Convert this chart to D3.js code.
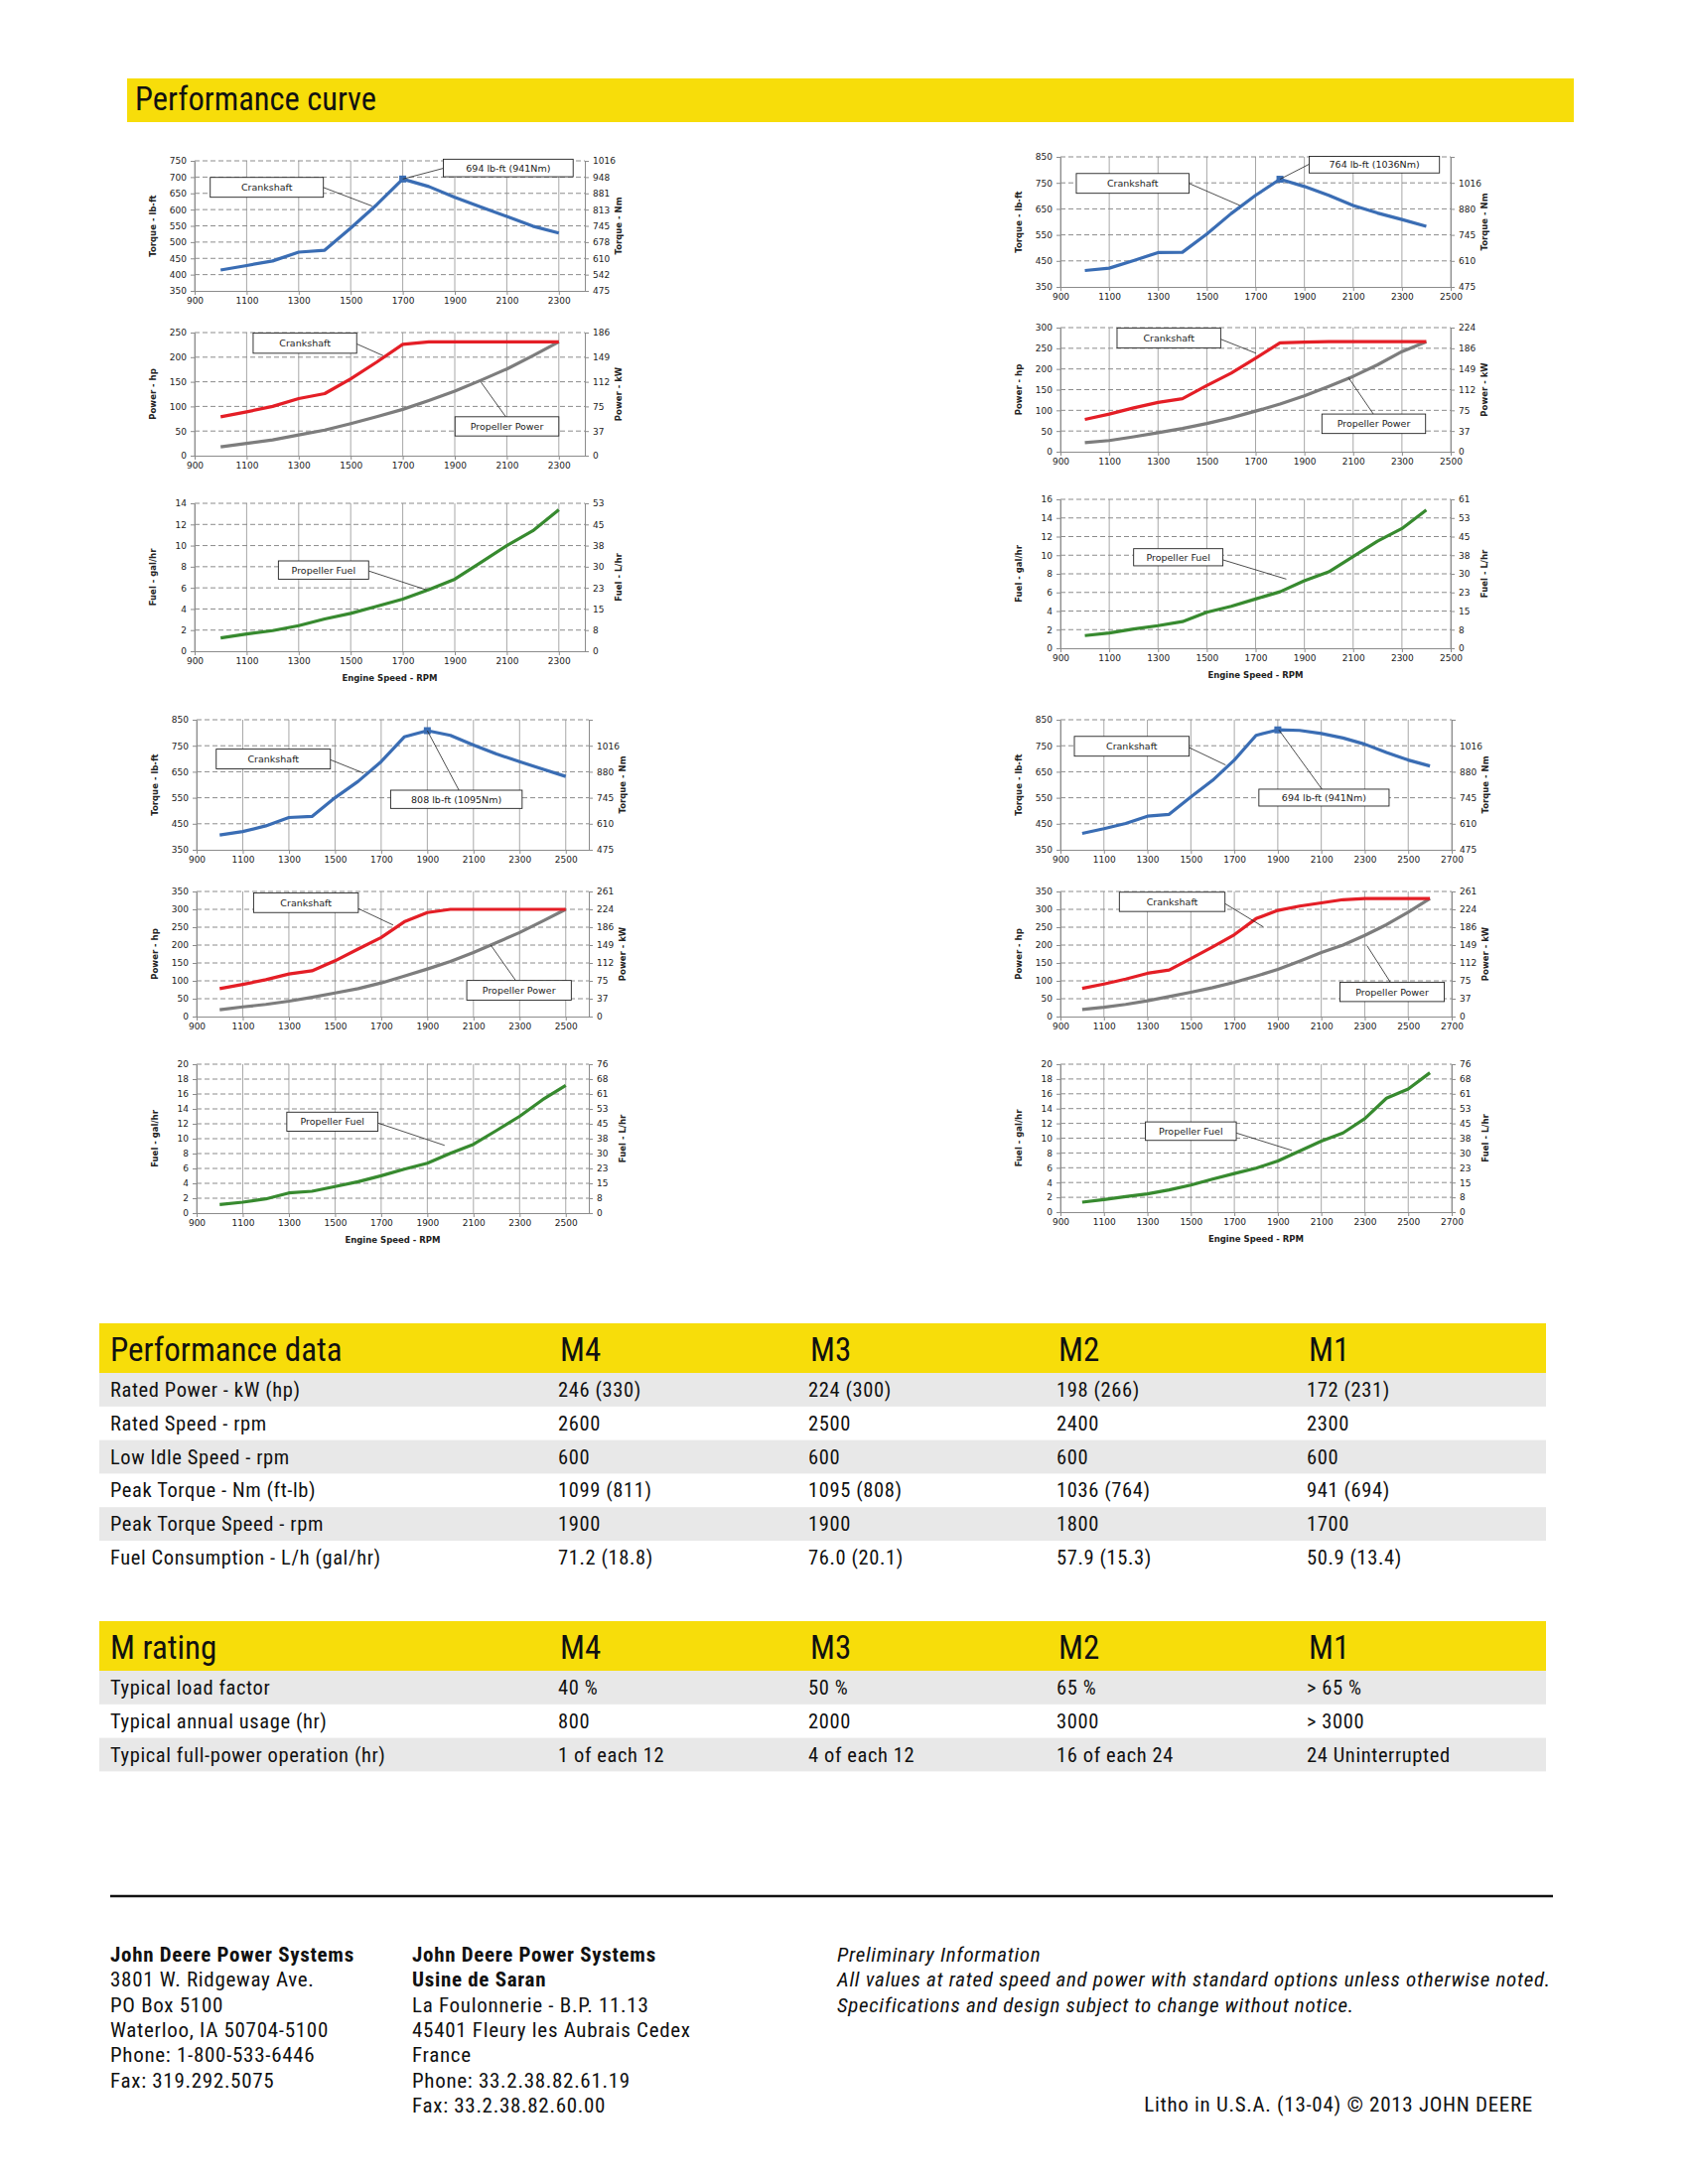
<!DOCTYPE html>
<html>
<head>
<meta charset="utf-8">
<title>Performance curve</title>
<style>
  body {margin: 0; background: #fff;}
  svg {display: block;}
  .txt {font-family: "Liberation Sans Narrow", "Arial Narrow", "Roboto Condensed", "Liberation Sans", sans-serif; fill: #111;}
  .row {letter-spacing: 0.6px;}
  .foot {letter-spacing: 0.7px;}
  .chart text {font-family: "DejaVu Sans", Verdana, sans-serif; fill: #222;}
</style>
</head>
<body>
<svg id="page" width="1700" height="2200"></svg>
<script src="https://d3js.org/d3.v7.min.js"></script>
<script>
// ---- engine speed points (rpm) ----
var rpmM1 = [1000,1100,1200,1300,1400,1500,1600,1700,1800,1900,2000,2100,2200,2300];
var rpmM2 = [1000,1100,1200,1300,1400,1500,1600,1700,1800,1900,2000,2100,2200,2300,2400];
var rpmM3 = [1000,1100,1200,1300,1400,1500,1600,1700,1800,1900,2000,2100,2200,2300,2400,2500];
var rpmM4 = [1000,1100,1200,1300,1400,1500,1600,1700,1800,1900,2000,2100,2200,2300,2400,2500,2600];

// ---- torque lb-ft ----
var torqueM1 = [414,428,442,469,475,543,615,694,671,638,608,579,549,528];
var torqueM2 = [413,422,451,482,483,553,632,702,764,736,702,663,634,609,583];
var torqueM3 = [407,420,442,474,478,550,613,689,784,808,790,753,718,689,660,632];
var torqueM4 = [413,431,451,479,486,553,617,695,790,811,809,797,780,756,724,695,672];

// ---- crankshaft power hp ----
var crankM1 = [79,89,100,116,126,156,190,226,231,231,231,231,231,231];
var crankM2 = [78,91,106,119,128,160,190,226,263,265,266,266,266,266,266];
var crankM3 = [78,90,103,119,128,156,189,221,265,291,300,300,300,300,300,300];
var crankM4 = [79,91,105,121,130,162,195,229,274,297,309,318,327,330,330,330,330];

// ---- propeller power hp ----
var propM1 = [18,25,32,42,52,65,79,94,112,131,153,176,203,231];
var propM2 = [22,27,36,46,56,68,82,98,115,135,158,182,210,242,266];
var propM3 = [19,27,34,43,54,66,78,94,113,133,154,179,207,235,267,300];
var propM4 = [20,26,34,44,56,68,81,96,113,132,155,179,200,227,257,292,330];

// ---- propeller fuel gal/hr ----
var fuelM1 = [1.26,1.64,1.95,2.42,3.05,3.58,4.25,4.94,5.82,6.82,8.4,10.0,11.4,13.4];
var fuelM2 = [1.36,1.64,2.07,2.43,2.86,3.86,4.5,5.29,6.07,7.25,8.21,9.86,11.5,12.86,14.86];
var fuelM3 = [1.16,1.47,1.91,2.71,2.93,3.56,4.22,5.02,5.91,6.71,8.04,9.24,11.1,13.0,15.24,17.16];
var fuelM4 = [1.34,1.7,2.1,2.46,3.0,3.66,4.46,5.22,5.94,6.92,8.26,9.6,10.7,12.63,15.4,16.65,18.84];

// ---- axis ticks ----
var rpmTicks2300 = [900,1100,1300,1500,1700,1900,2100,2300];
var rpmTicks2500 = [900,1100,1300,1500,1700,1900,2100,2300,2500];
var rpmTicks2700 = [900,1100,1300,1500,1700,1900,2100,2300,2500,2700];

var torqueTicksM1 = [350,400,450,500,550,600,650,700,750];
var nmLabelsM1 = ["475","542","610","678","745","813","881","948","1016"];
var torqueTicks = [350,450,550,650,750,850];
var nmLabels = ["475","610","745","880","1016",""];

var powerTicks250 = [0,50,100,150,200,250];
var kwLabels250 = ["0","37","75","112","149","186"];
var powerTicks300 = [0,50,100,150,200,250,300];
var kwLabels300 = ["0","37","75","112","149","186","224"];
var powerTicks350 = [0,50,100,150,200,250,300,350];
var kwLabels350 = ["0","37","75","112","149","186","224","261"];

var fuelTicks14 = [0,2,4,6,8,10,12,14];
var lhLabels14 = ["0","8","15","23","30","38","45","53"];
var fuelTicks16 = [0,2,4,6,8,10,12,14,16];
var lhLabels16 = ["0","8","15","23","30","38","45","53","61"];
var fuelTicks20 = [0,2,4,6,8,10,12,14,16,18,20];
var lhLabels20 = ["0","8","15","23","30","38","45","53","61","68","76"];

// ---- tables ----
var perfRows = ["Rated Power - kW (hp)","Rated Speed - rpm","Low Idle Speed - rpm","Peak Torque - Nm (ft-lb)","Peak Torque Speed - rpm","Fuel Consumption - L/h (gal/hr)"];
var perfM4 = ["246 (330)","2600","600","1099 (811)","1900","71.2 (18.8)"];
var perfM3 = ["224 (300)","2500","600","1095 (808)","1900","76.0 (20.1)"];
var perfM2 = ["198 (266)","2400","600","1036 (764)","1800","57.9 (15.3)"];
var perfM1 = ["172 (231)","2300","600","941 (694)","1700","50.9 (13.4)"];
var ratingNames = ["M4","M3","M2","M1"];
var ratingRows = ["Typical load factor","Typical annual usage (hr)","Typical full-power operation (hr)"];
var ratingM4 = ["40 %","800","1 of each 12"];
var ratingM3 = ["50 %","2000","4 of each 12"];
var ratingM2 = ["65 %","3000","16 of each 24"];
var ratingM1 = ["> 65 %","> 3000","24 Uninterrupted"];

var footerUS = ["John Deere Power Systems","3801 W. Ridgeway Ave.","PO Box 5100","Waterloo, IA 50704-5100","Phone: 1-800-533-6446","Fax: 319.292.5075"];
var footerFR = ["John Deere Power Systems","Usine de Saran","La Foulonnerie - B.P. 11.13","45401 Fleury les Aubrais Cedex","France","Phone: 33.2.38.82.61.19","Fax: 33.2.38.82.60.00"];
var footerNote = ["Preliminary Information","All values at rated speed and power with standard options unless otherwise noted.","Specifications and design subject to change without notice."];

var BLUE = "#3a6db4", RED = "#e41e26", GREY = "#7d7d7d", GREEN = "#378a2f";

var svg = d3.select("#page");

function drawChart(c) {
	var g = svg.append("g").attr("class", "chart");
	var x = d3.scaleLinear().domain(c.xDomain).range([c.left, c.right]);
	var y = d3.scaleLinear().domain(c.yDomain).range([c.bottom, c.top]);

	g.append("g").selectAll("line").data(c.xTicks).join("line")
		.attr("x1", function(d){return x(d)}).attr("x2", function(d){return x(d)})
		.attr("y1", c.top).attr("y2", c.bottom)
		.attr("stroke", "#a8a8a8").attr("stroke-width", 1);
	g.append("g").selectAll("line").data(c.yTicks.slice(1)).join("line")
		.attr("x1", c.left).attr("x2", c.right)
		.attr("y1", function(d){return y(d)}).attr("y2", function(d){return y(d)})
		.attr("stroke", "#8c8c8c").attr("stroke-width", 1).attr("stroke-dasharray", "5,3");

	var left = g.append("g").attr("transform", "translate(" + c.left + ",0)")
		.call(d3.axisLeft(y).tickValues(c.yTicks).tickSize(4).tickSizeOuter(0).tickPadding(4).tickFormat(d3.format("d")));
	var right = g.append("g").attr("transform", "translate(" + c.right + ",0)")
		.call(d3.axisRight(y).tickValues(c.yTicks).tickSize(4).tickSizeOuter(0).tickPadding(4)
			.tickFormat(function(d, i){return c.rightLabels[i]}));
	var bottom = g.append("g").attr("transform", "translate(0," + c.bottom + ")")
		.call(d3.axisBottom(x).tickValues(c.xTicks).tickSize(4).tickSizeOuter(0).tickPadding(3).tickFormat(d3.format("d")));
	[left, right, bottom].forEach(function(a){
		a.attr("font-family", null).attr("font-size", null);
		a.selectAll("path, line").attr("stroke", "#8c8c8c");
		a.selectAll("text").style("font-size", "9px");
	});

	g.append("text").attr("transform", "translate(" + (c.left - 39) + "," + ((c.top + c.bottom) / 2) + ") rotate(-90)")
		.attr("text-anchor", "middle").style("font-size", "8.5px").style("font-weight", "bold").text(c.leftTitle);
	if (c.rightTitle) {
		g.append("text").attr("transform", "translate(" + (c.right + 37) + "," + ((c.top + c.bottom) / 2) + ") rotate(-90)")
			.attr("text-anchor", "middle").style("font-size", "8.5px").style("font-weight", "bold").text(c.rightTitle);
	}
	if (c.xTitle) {
		g.append("text").attr("x", (c.left + c.right) / 2).attr("y", c.bottom + 30)
			.attr("text-anchor", "middle").style("font-size", "8.5px").style("font-weight", "bold").text(c.xTitle);
	}

	var line = d3.line().x(function(d){return x(d[0])}).y(function(d){return y(d[1])});
	c.series.forEach(function(s){
		g.append("path").datum(d3.zip(c.rpm, s.values))
			.attr("d", line).attr("fill", "none").attr("stroke", s.color)
			.attr("stroke-width", 3.2).attr("stroke-linejoin", "round");
	});
	if (c.peak) {
		g.append("rect").attr("x", x(c.peak[0]) - 3.5).attr("y", y(c.peak[1]) - 3.5)
			.attr("width", 7).attr("height", 7).attr("fill", BLUE);
	}

	c.notes.forEach(function(n){
		g.append("line").attr("x1", x(n.from[0])).attr("y1", y(n.from[1]))
			.attr("x2", x(n.to[0])).attr("y2", y(n.to[1]))
			.attr("stroke", "#222").attr("stroke-width", 0.8);
		g.append("rect").attr("x", x(n.box[0])).attr("y", y(n.box[2]))
			.attr("width", x(n.box[1]) - x(n.box[0])).attr("height", y(n.box[3]) - y(n.box[2]))
			.attr("fill", "#fff").attr("stroke", "#222").attr("stroke-width", 0.9);
		g.append("text").attr("x", (x(n.box[0]) + x(n.box[1])) / 2).attr("y", (y(n.box[2]) + y(n.box[3])) / 2)
			.attr("dy", "0.36em").attr("text-anchor", "middle").style("font-size", "9.5px").text(n.text);
	});
}

var charts = [
	// M1 (top left)
	{left: 196, right: 589, top: 162, bottom: 293, xDomain: [900, 2400], xTicks: rpmTicks2300, rpm: rpmM1,
	 yDomain: [350, 750], yTicks: torqueTicksM1, rightLabels: nmLabelsM1, leftTitle: "Torque - lb-ft", rightTitle: "Torque - Nm",
	 series: [{values: torqueM1, color: BLUE}], peak: [1700, 694],
	 notes: [{text: "Crankshaft", box: [960, 1395, 699, 638], from: [1395, 668], to: [1582, 611]},
	         {text: "694 lb-ft (941Nm)", box: [1856, 2355, 755, 701], from: [1700, 694], to: [1856, 727]}]},
	{left: 196, right: 589, top: 335, bottom: 459, xDomain: [900, 2400], xTicks: rpmTicks2300, rpm: rpmM1,
	 yDomain: [0, 250], yTicks: powerTicks250, rightLabels: kwLabels250, leftTitle: "Power - hp", rightTitle: "Power - kW",
	 series: [{values: propM1, color: GREY}, {values: crankM1, color: RED}],
	 notes: [{text: "Crankshaft", box: [1125, 1523, 249, 208], from: [1523, 227], to: [1625, 203]},
	         {text: "Propeller Power", box: [1901, 2300, 79, 40], from: [2096, 79], to: [2001, 149]}]},
	{left: 196, right: 589, top: 507, bottom: 656, xDomain: [900, 2400], xTicks: rpmTicks2300, rpm: rpmM1,
	 yDomain: [0, 14], yTicks: fuelTicks14, rightLabels: lhLabels14, leftTitle: "Fuel - gal/hr", rightTitle: "Fuel - L/hr",
	 xTitle: "Engine Speed - RPM", series: [{values: fuelM1, color: GREEN}],
	 notes: [{text: "Propeller Fuel", box: [1222, 1569, 8.55, 6.82], from: [1569, 7.6], to: [1792, 5.8]}]},
	// M2 (top right)
	{left: 1068, right: 1461, top: 158, bottom: 289, xDomain: [900, 2500], xTicks: rpmTicks2500, rpm: rpmM2,
	 yDomain: [350, 850], yTicks: torqueTicks, rightLabels: nmLabels, leftTitle: "Torque - lb-ft", rightTitle: "Torque - Nm",
	 series: [{values: torqueM2, color: BLUE}], peak: [1800, 764],
	 notes: [{text: "Crankshaft", box: [965, 1427, 786, 710], from: [1427, 748], to: [1636, 663]},
	         {text: "764 lb-ft (1036Nm)", box: [1920, 2454, 852, 788], from: [1800, 764], to: [1920, 822]}]},
	{left: 1068, right: 1461, top: 330, bottom: 455, xDomain: [900, 2500], xTicks: rpmTicks2500, rpm: rpmM2,
	 yDomain: [0, 300], yTicks: powerTicks300, rightLabels: kwLabels300, leftTitle: "Power - hp", rightTitle: "Power - kW",
	 series: [{values: propM2, color: GREY}, {values: crankM2, color: RED}],
	 notes: [{text: "Crankshaft", box: [1132, 1557, 299, 251], from: [1557, 272], to: [1702, 238]},
	         {text: "Propeller Power", box: [1972, 2397, 91, 44], from: [2183, 91], to: [2081, 179]}]},
	{left: 1068, right: 1461, top: 503, bottom: 653, xDomain: [900, 2500], xTicks: rpmTicks2500, rpm: rpmM2,
	 yDomain: [0, 16], yTicks: fuelTicks16, rightLabels: lhLabels16, leftTitle: "Fuel - gal/hr", rightTitle: "Fuel - L/hr",
	 xTitle: "Engine Speed - RPM", series: [{values: fuelM2, color: GREEN}],
	 notes: [{text: "Propeller Fuel", box: [1200, 1566, 10.7, 8.86], from: [1566, 9.5], to: [1826, 7.43]}]},
	// M3 (bottom left)
	{left: 198, right: 593, top: 725, bottom: 856, xDomain: [900, 2600], xTicks: rpmTicks2500, rpm: rpmM3,
	 yDomain: [350, 850], yTicks: torqueTicks, rightLabels: nmLabels, leftTitle: "Torque - lb-ft", rightTitle: "Torque - Nm",
	 series: [{values: torqueM3, color: BLUE}], peak: [1900, 808],
	 notes: [{text: "Crankshaft", box: [985, 1480, 737, 661], from: [1480, 696], to: [1623, 645]},
	         {text: "808 lb-ft (1095Nm)", box: [1741, 2311, 579, 509], from: [1900, 808], to: [2037, 579]}]},
	{left: 198, right: 593, top: 898, bottom: 1024, xDomain: [900, 2600], xTicks: rpmTicks2500, rpm: rpmM3,
	 yDomain: [0, 350], yTicks: powerTicks350, rightLabels: kwLabels350, leftTitle: "Power - hp", rightTitle: "Power - kW",
	 series: [{values: propM3, color: GREY}, {values: crankM3, color: RED}],
	 notes: [{text: "Crankshaft", box: [1147, 1601, 346, 291], from: [1601, 302], to: [1752, 256]},
	         {text: "Propeller Power", box: [2071, 2524, 101, 46], from: [2283, 101], to: [2175, 200]}]},
	{left: 198, right: 593, top: 1072, bottom: 1222, xDomain: [900, 2600], xTicks: rpmTicks2500, rpm: rpmM3,
	 yDomain: [0, 20], yTicks: fuelTicks20, rightLabels: lhLabels20, leftTitle: "Fuel - gal/hr", rightTitle: "Fuel - L/hr",
	 xTitle: "Engine Speed - RPM", series: [{values: fuelM3, color: GREEN}],
	 notes: [{text: "Propeller Fuel", box: [1291, 1686, 13.56, 11.0], from: [1686, 12.1], to: [1975, 9.1]}]},
	// M4 (bottom right)
	{left: 1068, right: 1462, top: 725, bottom: 856, xDomain: [900, 2700], xTicks: rpmTicks2700, rpm: rpmM4,
	 yDomain: [350, 850], yTicks: torqueTicks, rightLabels: nmLabels, leftTitle: "Torque - lb-ft", rightTitle: "Torque - Nm",
	 series: [{values: torqueM4, color: BLUE}], peak: [1900, 811],
	 notes: [{text: "Crankshaft", box: [964, 1492, 786, 710], from: [1492, 743], to: [1660, 676]},
	         {text: "694 lb-ft (941Nm)", box: [1813, 2412, 583, 518], from: [1905, 811], to: [2103, 583]}]},
	{left: 1068, right: 1462, top: 898, bottom: 1024, xDomain: [900, 2700], xTicks: rpmTicks2700, rpm: rpmM4,
	 yDomain: [0, 350], yTicks: powerTicks350, rightLabels: kwLabels350, leftTitle: "Power - hp", rightTitle: "Power - kW",
	 series: [{values: propM4, color: GREY}, {values: crankM4, color: RED}],
	 notes: [{text: "Crankshaft", box: [1171, 1657, 348, 294], from: [1657, 316], to: [1833, 251]},
	         {text: "Propeller Power", box: [2186, 2666, 96, 42], from: [2418, 96], to: [2311, 198]}]},
	{left: 1068, right: 1462, top: 1072, bottom: 1221, xDomain: [900, 2700], xTicks: rpmTicks2700, rpm: rpmM4,
	 yDomain: [0, 20], yTicks: fuelTicks20, rightLabels: lhLabels20, leftTitle: "Fuel - gal/hr", rightTitle: "Fuel - L/hr",
	 xTitle: "Engine Speed - RPM", series: [{values: fuelM4, color: GREEN}],
	 notes: [{text: "Propeller Fuel", box: [1291, 1709, 12.2, 9.7], from: [1709, 10.7], to: [1964, 8.35]}]}
];

// ---- page header ----
var YELLOW = "#f7dd0a";
svg.append("rect").attr("x", 128).attr("y", 79).attr("width", 1457).attr("height", 44).attr("fill", YELLOW);
svg.append("text").attr("class", "txt").attr("x", 136).attr("y", 111).style("font-size", "32.5px").text("Performance curve");

charts.forEach(drawChart);

// ---- tables ----
var colX = [564, 816, 1066, 1318];
var rowH = 33.8;
function drawTable(top, title, rows, cols) {
	var g = svg.append("g");
	g.append("rect").attr("x", 100).attr("y", top).attr("width", 1457).attr("height", 50).attr("fill", YELLOW);
	g.append("text").attr("class", "txt").attr("x", 111).attr("y", top + 38).style("font-size", "33px").text(title);
	ratingNames.forEach(function(n, i){
		g.append("text").attr("class", "txt").attr("x", colX[i]).attr("y", top + 38).style("font-size", "33px").text(n);
	});
	var bodyTop = top + 50;
	rows.forEach(function(r, i){
		if (i % 2 == 0) {
			g.append("rect").attr("x", 100).attr("y", bodyTop + i * rowH).attr("width", 1457).attr("height", rowH).attr("fill", "#e8e8e8");
		}
		g.append("text").attr("class", "txt row").attr("x", 111).attr("y", bodyTop + i * rowH + 24).style("font-size", "20.5px").text(r);
		cols.forEach(function(col, j){
			g.append("text").attr("class", "txt row").attr("x", colX[j] - 2).attr("y", bodyTop + i * rowH + 24).style("font-size", "20.5px").text(col[i]);
		});
	});
}
drawTable(1333, "Performance data", perfRows, [perfM4, perfM3, perfM2, perfM1]);
drawTable(1633, "M rating", ratingRows, [ratingM4, ratingM3, ratingM2, ratingM1]);

// ---- footer ----
svg.append("line").attr("x1", 111).attr("x2", 1564).attr("y1", 1910).attr("y2", 1910).attr("stroke", "#111").attr("stroke-width", 2.5);
function drawLines(lines, x0, boldCount, italic) {
	lines.forEach(function(l, i){
		svg.append("text").attr("class", "txt foot").attr("x", x0).attr("y", 1976 + i * 25.3)
			.style("font-size", "21px")
			.style("font-weight", i < boldCount ? "bold" : "normal")
			.style("font-style", italic ? "italic" : "normal").text(l);
	});
}
drawLines(footerUS, 111, 1, false);
drawLines(footerFR, 415, 2, false);
drawLines(footerNote, 843, 0, true);
svg.append("text").attr("class", "txt foot").attr("x", 1544).attr("y", 2127).attr("text-anchor", "end")
	.style("font-size", "21px").text("Litho in U.S.A. (13-04) \u00a9 2013 JOHN DEERE");
</script>
</body>
</html>
